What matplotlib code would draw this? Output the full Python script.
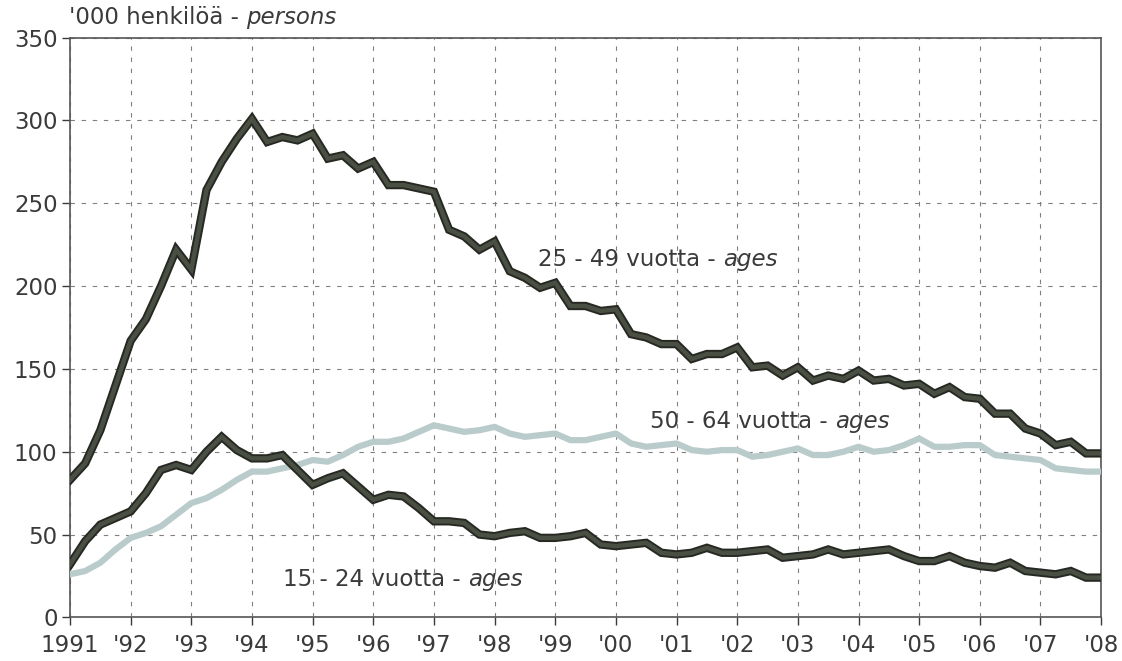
import matplotlib.pyplot as plt
import matplotlib.patheffects as pe

plt.rcParams['font.family'] = ['DejaVu Sans']

# quarterly observations 1991 Q1 .. 2008 Q1
start_year = 1991
ages_25_49 = [83, 93, 113, 140, 167, 180, 200, 222, 210, 258, 275, 289,
              301, 287, 290, 288, 292, 277, 279, 271, 275, 261, 261, 259,
              257, 234, 230, 222, 227, 209, 205, 199, 202, 188, 188, 185,
              186, 171, 169, 165, 165, 156, 159, 159, 163, 151, 152, 146,
              151, 143, 146, 144, 149, 143, 144, 140, 141, 135, 139, 133,
              132, 123, 123, 114, 111, 104, 106, 99, 99]
ages_50_64 = [26, 28, 33, 41, 48, 51, 55, 62, 69, 72, 77, 83,
              88, 88, 90, 92, 95, 94, 98, 103, 106, 106, 108, 112,
              116, 114, 112, 113, 115, 111, 109, 110, 111, 107, 107, 109,
              111, 105, 103, 104, 105, 101, 100, 101, 101, 97, 98, 100,
              102, 98, 98, 100, 103, 100, 101, 104, 108, 103, 103, 104,
              104, 98, 97, 96, 95, 90, 89, 88, 88]
ages_15_24 = [32, 46, 56, 60, 64, 75, 89, 92, 89, 100, 109, 101,
              96, 96, 98, 89, 80, 84, 87, 79, 71, 74, 73, 66,
              58, 58, 57, 50, 49, 51, 52, 48, 48, 49, 51, 44,
              43, 44, 45, 39, 38, 39, 42, 39, 39, 40, 41, 36,
              37, 38, 41, 38, 39, 40, 41, 37, 34, 34, 37, 33,
              31, 30, 33, 28, 27, 26, 28, 24, 24]
years = list(range(1991, 2009))
year_labels = ['1991'] + ["'%02d" % (y % 100) for y in years[1:]]

quarters = [start_year + i / 4 for i in range(len(ages_25_49))]

text_col = '#3a3a3a'
dark = '#4a4f44'
light = '#b9cccb'

fig = plt.figure(figsize=(11.22, 6.61), dpi=100)
ax = fig.add_axes([0.0624, 0.066, 0.919, 0.877])

dark_fx = [pe.Stroke(linewidth=6, foreground='#262822'), pe.Normal()]
ax.plot(quarters, ages_25_49, color=dark, lw=3.2, path_effects=dark_fx,
        solid_joinstyle='miter', zorder=4)
ax.plot(quarters, ages_15_24, color=dark, lw=3.2, path_effects=dark_fx,
        solid_joinstyle='miter', zorder=4)
ax.plot(quarters, ages_50_64, color=light, lw=4.5, zorder=3)

ax.set_xlim(1991, 2008)
ax.set_ylim(0, 350)
ax.set_yticks(range(0, 351, 50))
ax.set_xticks(years)
ax.set_xticklabels(year_labels)
ax.tick_params(labelsize=16.5, colors=text_col, length=6, width=1,
               direction='out')
ax.tick_params(axis='x', pad=6)
ax.tick_params(axis='y', pad=3)
for s in ax.spines.values():
    s.set_color('#555555')
    s.set_linewidth(1.2)
ax.grid(True, color='#808080', lw=0.8, linestyle=(0, (4, 6)))
ax.set_axisbelow(True)

fig.canvas.draw()


def mixed_text(x, y, parts, transform, size):
    # draw text pieces one after another, plain then italic
    t = None
    for s, style in parts:
        if t is None:
            t = ax.text(x, y, s, transform=transform, fontsize=size,
                        style=style, color=text_col, va='center', ha='left',
                        zorder=6)
        else:
            t = ax.annotate(s, xycoords=t, xy=(1, 0), va='bottom', ha='left',
                            fontsize=size, style=style, color=text_col,
                            zorder=6)
        fig.canvas.draw()


mixed_text(1998.72, 216, [('25 - 49 vuotta - ', 'normal'), ('ages', 'italic')],
           ax.transData, 16.5)
mixed_text(2000.56, 118, [('50 - 64 vuotta - ', 'normal'), ('ages', 'italic')],
           ax.transData, 16.5)
mixed_text(1994.51, 23, [('15 - 24 vuotta - ', 'normal'), ('ages', 'italic')],
           ax.transData, 16.5)

t0 = ax.text(-0.001, 1.035, "'000 henkilöä - ", transform=ax.transAxes,
             fontsize=16.5, color=text_col, va='center', ha='left')
ax.annotate('persons', xycoords=t0, xy=(1, 0), va='bottom', ha='left',
            fontsize=16.5, style='italic', color=text_col)

fig.savefig('out.png', dpi=100)
